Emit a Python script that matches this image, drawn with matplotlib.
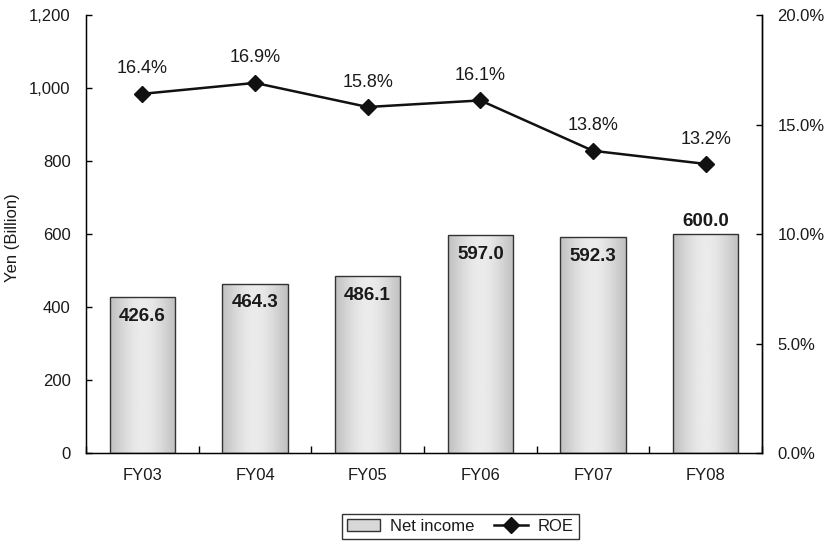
import numpy as np
import matplotlib.pyplot as plt
from matplotlib.ticker import FuncFormatter
from matplotlib.lines import Line2D
from matplotlib.patches import Rectangle

plt.rcParams['font.family'] = ['Liberation Sans', 'DejaVu Sans']
plt.rcParams['font.size'] = 12
plt.rcParams['text.color'] = '#1a1a1a'
plt.rcParams['xtick.labelcolor'] = '#1a1a1a'
plt.rcParams['ytick.labelcolor'] = '#1a1a1a'

years = ['FY03', 'FY04', 'FY05', 'FY06', 'FY07', 'FY08']
net_income = [426.6, 464.3, 486.1, 597.0, 592.3, 600.0]
roe = [16.4, 16.9, 15.8, 16.1, 13.8, 13.2]


def main():
    fig = plt.figure(figsize=(8.35, 5.46), dpi=100)
    ax = fig.add_axes([0.103, 0.1703, 0.8096, 0.8022])
    x = np.arange(len(years))
    w = 0.58

    bars = ax.bar(x, net_income, width=w, color='none', edgecolor='#333333',
                  linewidth=1.0, zorder=3)
    # horizontal gray gradient, light in the middle
    t = np.linspace(0, 1, 64)
    g = 0.76 + 0.16 * np.sin(np.pi * t) ** 1.2
    grad = np.tile(g, (2, 1))
    for b in bars:
        x0, y0 = b.get_x(), b.get_y()
        im = ax.imshow(grad, cmap='gray', vmin=0, vmax=1, aspect='auto',
                       extent=[x0, x0 + b.get_width(), y0, y0 + b.get_height()],
                       zorder=2, interpolation='bilinear')
        im.set_clip_path(Rectangle((x0, y0), b.get_width(), b.get_height(),
                                   transform=ax.transData))

    for i, v in enumerate(net_income):
        if i == len(years) - 1:
            ax.text(i, v + 12, f'{v:.1f}', ha='center', va='bottom',
                    fontweight='bold', fontsize=13.5, zorder=4)
        else:
            ax.text(i, v - 30, f'{v:.1f}', ha='center', va='top',
                    fontweight='bold', fontsize=13.5, zorder=4)

    ax.set_xlim(-0.5, len(years) - 0.5)
    ax.set_ylim(0, 1200)
    ax.set_yticks(range(0, 1201, 200))
    ax.yaxis.set_major_formatter(FuncFormatter(lambda v, p: f'{int(v):,}'))
    ax.set_xticks(x)
    ax.set_xticklabels(years)
    ax.set_xticks(np.arange(-0.5, len(years)), minor=True)
    ax.tick_params(axis='x', which='major', length=0, pad=11)
    ax.tick_params(axis='x', which='minor', direction='in', length=5, width=1)
    ax.tick_params(axis='y', direction='in', length=4, width=1, pad=11)
    ax.spines['top'].set_visible(False)
    for s in ['left', 'bottom', 'right']:
        ax.spines[s].set_linewidth(1.0)
    fig.text(13 / 835, 1 - 238 / 546, 'Yen (Billion)', rotation=90,
             ha='center', va='center', fontsize=12)

    ax2 = ax.twinx()
    ax2.plot(x, roe, color='#111111', linewidth=1.8, marker='D', markersize=8.5,
             zorder=5)
    for i, v in enumerate(roe):
        ax2.text(i, v + 0.75, f'{v:.1f}%', ha='center', va='bottom', fontsize=13)
    ax2.set_ylim(0, 20)
    ax2.set_yticks(np.arange(0, 20.1, 5))
    ax2.yaxis.set_major_formatter(FuncFormatter(lambda v, p: f'{v:.1f}%'))
    ax2.tick_params(axis='y', direction='in', length=4, width=1, pad=11)
    ax2.spines['top'].set_visible(False)
    ax2.spines['right'].set_linewidth(1.0)

    handles = [Rectangle((0, 0), 1, 1, facecolor='#d8d8d8', edgecolor='#333333'),
               Line2D([], [], color='#111111', linewidth=1.8, marker='D', markersize=8.5)]
    fig.legend(handles, ['Net income', 'ROE'], loc='center',
               bbox_to_anchor=(0.551, 0.036), ncol=2, frameon=True, fancybox=False,
               edgecolor='black', handlelength=2.0, handletextpad=0.6,
               columnspacing=1.2, borderpad=0.3)

    fig.savefig('out.png', dpi=100)


if __name__ == '__main__':
    main()
